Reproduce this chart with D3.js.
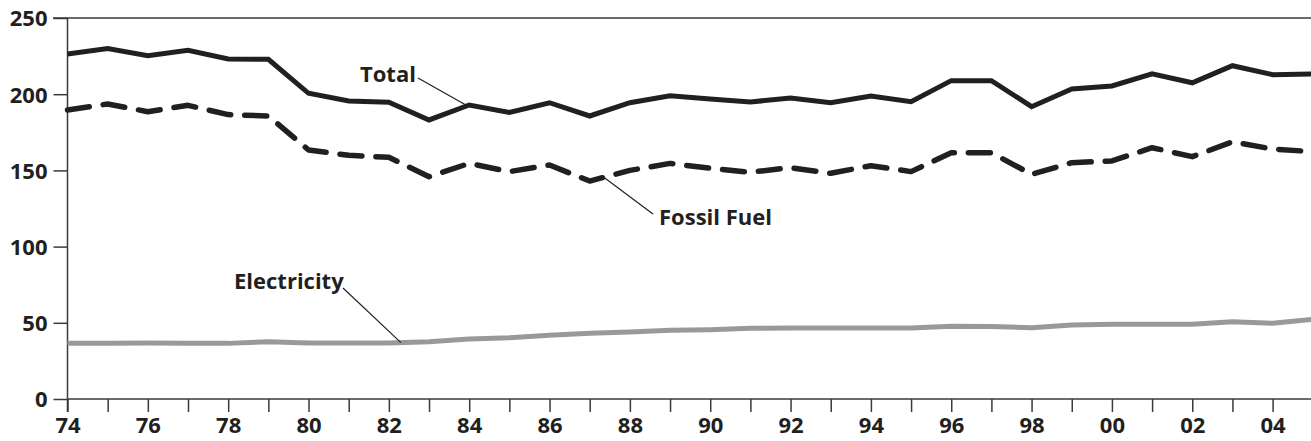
<!DOCTYPE html>
<html>
<head>
<meta charset="utf-8">
<script src="https://cdn.jsdelivr.net/npm/d3@7"></script>
<style>
  html, body { margin: 0; padding: 0; background: #fff; }
  svg { display: block; }
  text { font-family: "Open Sans", "Noto Sans", sans-serif; font-weight: 700; fill: #231f20; }
</style>
</head>
<body>
<svg id="chart" width="1311" height="441"></svg>
<script>
const years = [1974,1975,1976,1977,1978,1979,1980,1981,1982,1983,1984,1985,1986,1987,1988,1989,1990,1991,1992,1993,1994,1995,1996,1997,1998,1999,2000,2001,2002,2003,2004,2005];
const total = [226.4,229.9,225.3,228.8,223.1,222.9,200.6,195.5,194.7,183.1,192.9,188.1,194.4,185.7,194.4,199.0,196.9,194.9,197.5,194.4,198.8,195.1,208.9,208.9,191.8,203.4,205.4,213.3,207.5,218.7,212.8,213.3];
const fossilFuel = [189.6,193.6,188.5,192.7,186.6,185.7,163.4,159.9,158.6,145.9,154.6,149.2,153.5,143.0,150.0,154.6,151.4,148.8,151.8,148.1,153.1,149.2,161.6,161.6,147.4,155.1,156.2,164.9,159.0,168.8,164.0,162.3];
const electricity = [36.5,36.5,36.7,36.5,36.5,37.6,36.7,36.7,36.7,37.6,39.4,40.2,41.8,43.1,44.0,45.1,45.5,46.4,46.6,46.6,46.6,46.6,47.7,47.5,46.8,48.6,49.0,49.0,49.0,50.7,49.7,52.3];
const yTicks = [0,50,100,150,200,250];
const xLabelYears = [1974,1976,1978,1980,1982,1984,1986,1988,1990,1992,1994,1996,1998,2000,2002,2004];
const seriesLabels = ["Total","Fossil Fuel","Electricity"];

const svg = d3.select("#chart");
const x = d3.scaleLinear().domain([1974, 2005]).range([67.5, 67.5 + 31 * 40.17]);
const y = d3.scaleLinear().domain([0, 250]).range([399, 18]);
const axisColor = "#3a3a3a";

// Top gridline at 250
svg.append("line")
  .attr("x1", 53).attr("x2", 1311)
  .attr("y1", y(250)).attr("y2", y(250))
  .attr("stroke", axisColor).attr("stroke-width", 1.5);

// Y axis
const yAxis = d3.axisLeft(y).tickValues(yTicks).tickSize(14).tickPadding(6).tickFormat(d3.format("d"));
const gy = svg.append("g").attr("transform", `translate(${x(1974)},0)`).call(yAxis);
gy.select(".domain").remove();
gy.selectAll(".tick line").attr("stroke", axisColor).attr("stroke-width", 1.5);
gy.selectAll(".tick text").style("font-size", "22px").attr("fill", "#231f20").attr("dy", "0.36em");
svg.append("line")
  .attr("x1", x(1974)).attr("x2", x(1974))
  .attr("y1", y(250)).attr("y2", y(0) + 13)
  .attr("stroke", axisColor).attr("stroke-width", 1.5);

// X axis
const xAxis = d3.axisBottom(x).tickValues(years).tickSize(13).tickPadding(5)
  .tickFormat(d => xLabelYears.includes(d) ? String(d % 100).padStart(2, "0") : "");
const gx = svg.append("g").attr("transform", `translate(0,${y(0)})`).call(xAxis);
gx.select(".domain").remove();
gx.selectAll(".tick line").attr("stroke", axisColor).attr("stroke-width", 1.5);
gx.selectAll(".tick text").style("font-size", "22px").attr("fill", "#231f20");
svg.append("line")
  .attr("x1", x(1974)).attr("x2", 1311)
  .attr("y1", y(0)).attr("y2", y(0))
  .attr("stroke", axisColor).attr("stroke-width", 1.5);

const line = d3.line().x((d, i) => x(years[i])).y(d => y(d));

svg.append("path").datum(electricity)
  .attr("d", line).attr("fill", "none")
  .attr("stroke", "#98999c").attr("stroke-width", 5).attr("stroke-linejoin", "round");

svg.append("path").datum(fossilFuel)
  .attr("d", line).attr("fill", "none")
  .attr("stroke", "#231f20").attr("stroke-width", 5.5)
  .attr("stroke-dasharray", "22 14").attr("stroke-linecap", "round").attr("stroke-linejoin", "round");

svg.append("path").datum(total)
  .attr("d", line).attr("fill", "none")
  .attr("stroke", "#231f20").attr("stroke-width", 5).attr("stroke-linejoin", "miter");

// Labels with leader lines
const labels = [
  { text: seriesLabels[0], tx: 360, ty: 81.5, lx1: 418, ly1: 78, year: 1983.95, series: total },
  { text: seriesLabels[1], tx: 659, ty: 225, lx1: 653, ly1: 214, year: 1987.35, series: fossilFuel },
  { text: seriesLabels[2], tx: 234, ty: 288.5, lx1: 343, ly1: 288, year: 1982.3, series: electricity }
];
labels.forEach(l => {
  const i = Math.floor(l.year - 1974), f = l.year - 1974 - i;
  const v = l.series[i] + (l.series[i + 1] - l.series[i]) * f;
  svg.append("line")
    .attr("x1", l.lx1).attr("y1", l.ly1)
    .attr("x2", x(l.year)).attr("y2", y(v))
    .attr("stroke", "#231f20").attr("stroke-width", 1.2);
  svg.append("text").attr("x", l.tx).attr("y", l.ty)
    .style("font-size", "22px").text(l.text);
});
</script>
</body>
</html>
